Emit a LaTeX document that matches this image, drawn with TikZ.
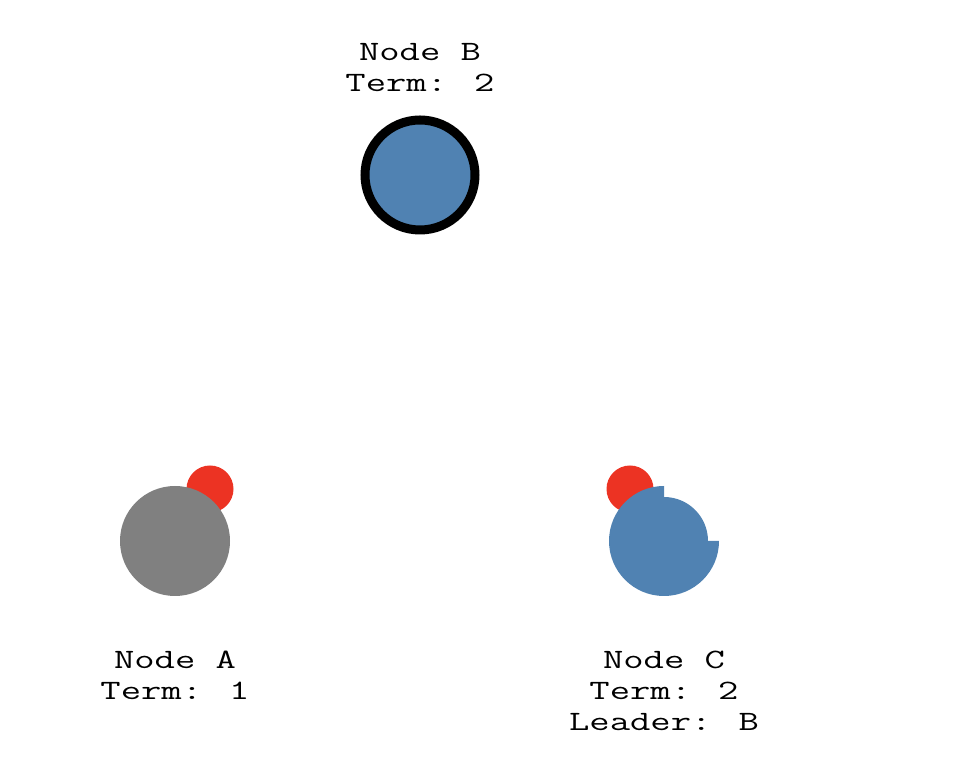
\documentclass[tikz,border=0pt]{standalone}
\usepackage{fontspec}
\usepackage{tikz}
\usetikzlibrary{positioning}
\newfontfamily\labelfont[FakeStretch=1.41]{Latin Modern Mono}
\definecolor{raftblue}{HTML}{5082B2}
\definecolor{raftgray}{HTML}{808080}
\definecolor{raftred}{HTML}{EC3323}

\begin{document}
\begin{tikzpicture}[x=1pt, y=1pt,
  server/.style = {circle, inner sep=0pt, minimum size=110pt},
  vote/.style = {circle, inner sep=0pt, minimum size=47pt, fill=raftred},
  caption/.style = {align=center, inner sep=0pt, font=\labelfont\fontsize{28}{31}\selectfont}]
\useasboundingbox (0,0) rectangle (964,782);
% requests in flight
\node[vote] at(210,293) (voteA) {};
\node[vote] at(630,293) (voteC) {};
% servers
\node[server, fill=raftgray] at(175,241) (nodeA) {};
\node[server, fill=raftblue, draw=black, line width=9pt] at(420,607) (nodeB) {};
\node[server] at(664,241) (nodeC) {};
\fill[raftblue] (nodeC.center) -- ++(90:55) arc[start angle=90, end angle=360, radius=55] -- cycle;
\fill[raftblue] (nodeC.center) -- ++(0:44) arc[start angle=0, end angle=90, radius=44] -- cycle;
% labels
\node[caption, below = 54.5pt of nodeA] (labelA) {Node A\\Term: 1};
\node[caption, above = 23.5pt of nodeB] (labelB) {Node B\\Term: 2};
\node[caption, below = 54.5pt of nodeC] (labelC) {Node C\\Term: 2\\Leader: B};
\end{tikzpicture}
\end{document}
